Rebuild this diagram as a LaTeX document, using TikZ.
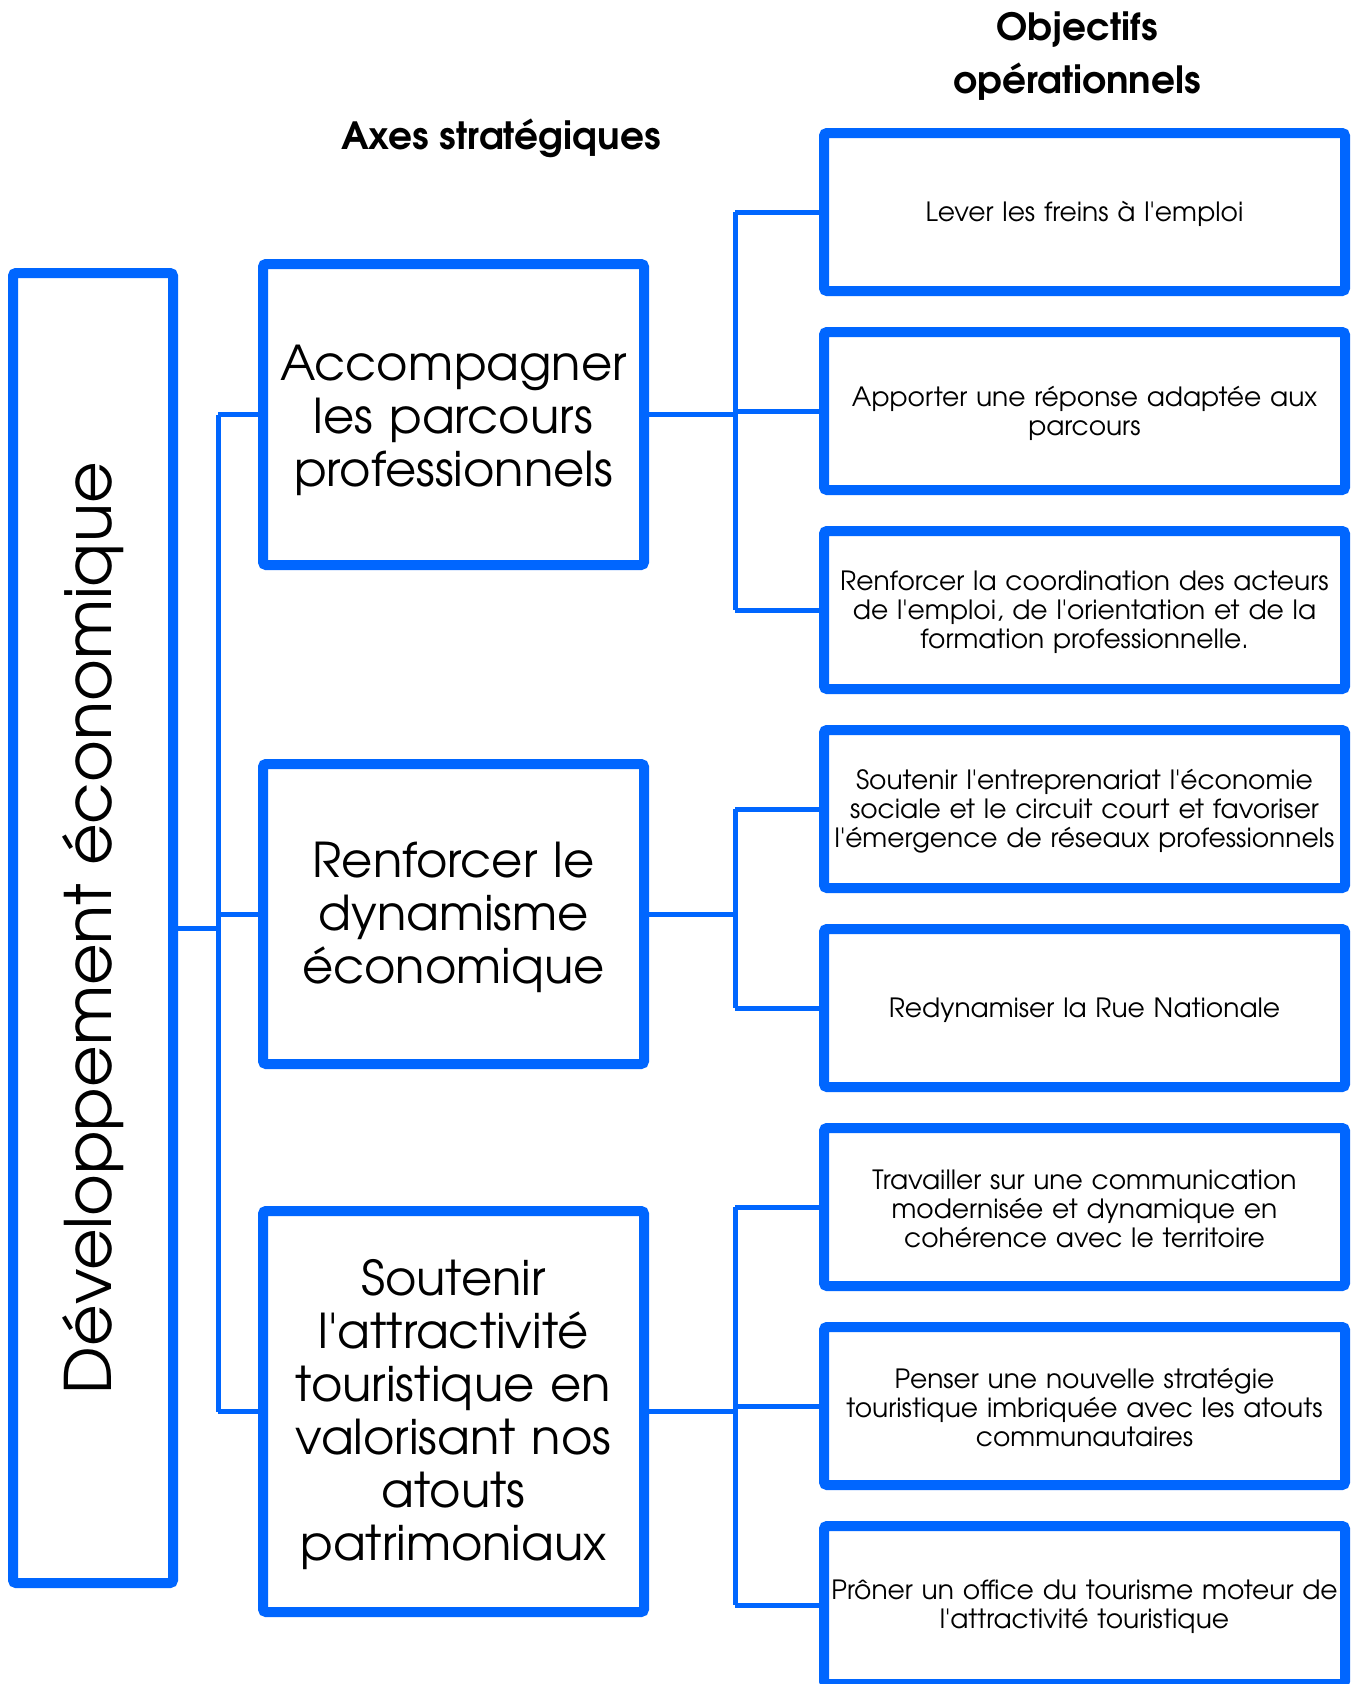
\documentclass[tikz,border=0pt]{standalone}
\usepackage{fontspec}
\setmainfont{texgyreadventor}[Extension=.otf, UprightFont=*-regular, BoldFont=*-bold, ItalicFont=*-italic, BoldItalicFont=*-bolditalic, Ligatures=TeXOff]
\usetikzlibrary{shadows,backgrounds}
\definecolor{bl}{HTML}{0066FF}
\tikzset{
  box/.style={draw=bl, line width=10pt, fill=white, rounded corners=3pt, inner sep=0pt,
    drop shadow={shadow xshift=2pt, shadow yshift=-3pt, opacity=0.18}},
  axisbox/.style={box, minimum width=381pt},
  objbox/.style={box, minimum width=521pt, minimum height=158pt},
  axistext/.style={align=center, inner sep=0pt, text width=375pt, font=\fontsize{48}{53}\selectfont},
  objtext/.style={align=center, inner sep=0pt, text width=515pt, font=\fontsize{26.5}{29}\selectfont},
  conn/.style={draw=bl, line width=5pt},
  head/.style={align=center, font=\fontsize{37.5}{53}\selectfont\bfseries}
}
\begin{document}
\begin{tikzpicture}[x=1pt,y=-1pt]
\useasboundingbox (0,0) rectangle (1360,1684);
\clip (0,0) rectangle (1360,1684);

\node[head] (h1) at (501,138) {Axes stratégiques};
\node[head] (h2) at (1077,56) {Objectifs\\opérationnels};

\node[box, minimum width=160pt, minimum height=1310pt] (L) at (93,928) {};
\node[rotate=90, font=\fontsize{64}{70}\selectfont] (Lt) at (L.center) {Développement économique};

\node[axisbox, minimum height=301pt] (A1) at (453.5,414.5) {};
\node[axisbox, minimum height=300pt] (A2) at (453.5,914) {};
\node[axisbox, minimum height=401pt] (A3) at (453.5,1411.5) {};
\node[axistext] (A1t) at (453.5,420) {Accompagner\\les parcours\\professionnels};
\node[axistext] (A2t) at (453.5,917) {Renforcer le\\dynamisme\\économique};
\node[axistext] (A3t) at (453.5,1414.5) {Soutenir\\l'attractivité\\touristique en\\valorisant nos\\atouts\\patrimoniaux};

\node[objbox] (O1) at (1084.5,212) {};
\node[objbox] (O2) at (1084.5,411) {};
\node[objbox] (O3) at (1084.5,610) {};
\node[objbox] (O4) at (1084.5,809) {};
\node[objbox] (O5) at (1084.5,1008) {};
\node[objbox] (O6) at (1084.5,1207) {};
\node[objbox] (O7) at (1084.5,1406) {};
\node[objbox] (O8) at (1084.5,1605) {};
\node[objtext] (O1t) at (1084.5,214) {Lever les freins à l'emploi};
\node[objtext] (O2t) at (1084.5,413) {Apporter une réponse adaptée aux\\parcours};
\node[objtext] (O3t) at (1084.5,612) {Renforcer la coordination des acteurs\\de l'emploi, de l'orientation et de la\\formation professionnelle.};
\node[objtext] (O4t) at (1084.5,811) {Soutenir l'entreprenariat l'économie\\sociale et le circuit court et favoriser\\l'émergence de réseaux professionnels};
\node[objtext] (O5t) at (1084.5,1010) {Redynamiser la Rue Nationale};
\node[objtext] (O6t) at (1084.5,1209) {Travailler sur une communication\\modernisée et dynamique en\\cohérence avec le territoire};
\node[objtext] (O7t) at (1084.5,1408) {Penser une nouvelle stratégie\\touristique imbriquée avec les atouts\\communautaires};
\node[objtext] (O8t) at (1084.5,1607) {Prôner un office du tourisme moteur de\\l'attractivité touristique};

\coordinate (tk) at (218,0);
\coordinate (tr) at (735,0);

\begin{scope}[on background layer]
\fill[white] (0,0) rectangle (1360,1684);
\draw[conn] (L.east) -- (L.east -| tk);
\draw[conn] (A1.west -| tk) -- (A3.west -| tk);
\draw[conn] (A1.west -| tk) -- (A1.west);
\draw[conn] (A2.west -| tk) -- (A2.west);
\draw[conn] (A3.west -| tk) -- (A3.west);

\draw[conn] (A1.east) -- (A1.east -| tr);
\draw[conn] (O1.west -| tr) -- (O3.west -| tr);
\draw[conn] (O1.west -| tr) -- (O1.west);
\draw[conn] (O2.west -| tr) -- (O2.west);
\draw[conn] (O3.west -| tr) -- (O3.west);

\draw[conn] (A2.east) -- (A2.east -| tr);
\draw[conn] (O4.west -| tr) -- (O5.west -| tr);
\draw[conn] (O4.west -| tr) -- (O4.west);
\draw[conn] (O5.west -| tr) -- (O5.west);

\draw[conn] (A3.east) -- (A3.east -| tr);
\draw[conn] (O6.west -| tr) -- (O8.west -| tr);
\draw[conn] (O6.west -| tr) -- (O6.west);
\draw[conn] (O7.west -| tr) -- (O7.west);
\draw[conn] (O8.west -| tr) -- (O8.west);
\end{scope}
\end{tikzpicture}
\end{document}
